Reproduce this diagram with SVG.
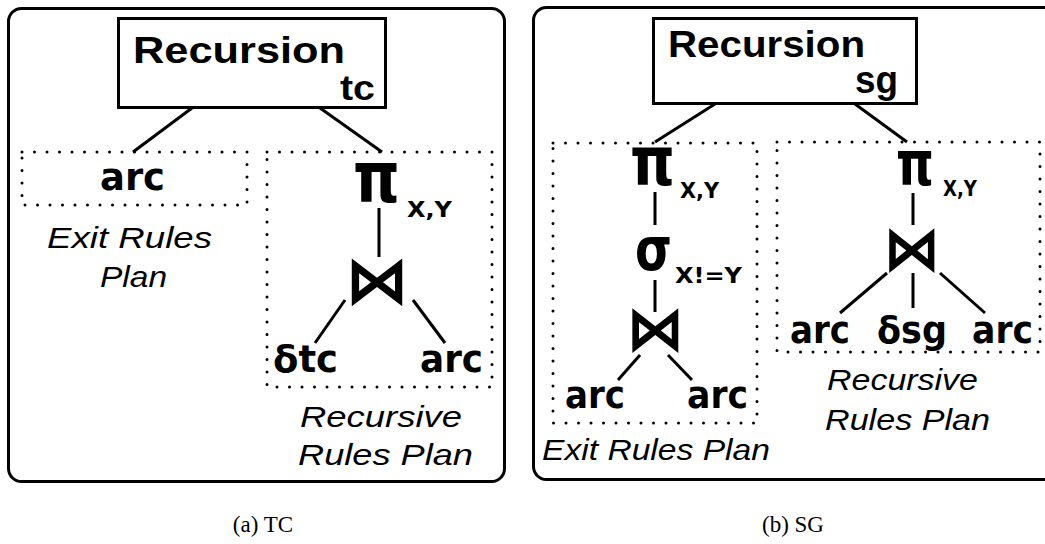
<svg xmlns="http://www.w3.org/2000/svg" width="1045" height="544" viewBox="0 0 1045 544">
<style>
.panel{fill:none;stroke:#000;stroke-width:3}
.rbox{fill:#fff;stroke:#000;stroke-width:3}
.dot{fill:none;stroke:#000;stroke-width:3;stroke-linecap:round;stroke-dasharray:0 12.5}
.ln{stroke:#000;stroke-width:3;fill:none}
.hb{font-family:"Liberation Sans",Arial,sans-serif;font-weight:bold;fill:#000}
.sym{font-family:"DejaVu Sans",sans-serif;font-weight:bold;fill:#000}
.gk{font-family:"DejaVu Sans",sans-serif;font-weight:bold;fill:#000}
.it{font-family:"Liberation Sans",Arial,sans-serif;font-style:italic;font-size:29px;fill:#000}
.cap{font-family:"Liberation Serif","Times New Roman",serif;font-size:23px;fill:#000}
</style>
<rect class="panel" x="8.5" y="8.5" width="496" height="473" rx="13"/>
<rect class="panel" x="533.5" y="7.5" width="530" height="472" rx="13"/>
<g id="connectors">
<line class="ln" x1="192" y1="108" x2="133" y2="152"/>
<line class="ln" x1="320" y1="108" x2="382" y2="152"/>
<line class="ln" x1="379" y1="208" x2="379" y2="257"/>
<line class="ln" x1="345" y1="300" x2="315" y2="343"/>
<line class="ln" x1="413" y1="300" x2="445" y2="343"/>
<line class="ln" x1="715" y1="104" x2="655" y2="142"/>
<line class="ln" x1="855" y1="104" x2="907" y2="142"/>
<line class="ln" x1="655" y1="192" x2="655" y2="225"/>
<line class="ln" x1="655" y1="280" x2="655" y2="312"/>
<line class="ln" x1="640" y1="355" x2="618" y2="380"/>
<line class="ln" x1="668" y1="355" x2="692" y2="380"/>
<line class="ln" x1="913" y1="193" x2="913" y2="225"/>
<line class="ln" x1="887" y1="273" x2="840" y2="313"/>
<line class="ln" x1="913" y1="273" x2="913" y2="308"/>
<line class="ln" x1="940" y1="273" x2="985" y2="313"/>
</g>
<g id="rec-tc">
<rect class="rbox" x="118.5" y="18.5" width="267" height="89"/>
<text class="hb" x="133" y="63" font-size="37" textLength="212" lengthAdjust="spacingAndGlyphs">Recursion</text>
<text class="hb" x="340" y="100" font-size="35" textLength="35" lengthAdjust="spacingAndGlyphs">tc</text>
</g>
<g id="tc-exit">
<rect class="dot" x="22" y="152" width="225" height="53"/>
<text class="sym" x="100" y="190" font-size="37" textLength="65" lengthAdjust="spacingAndGlyphs">arc</text>
<text class="it" x="47" y="248" textLength="165" lengthAdjust="spacingAndGlyphs">Exit Rules</text>
<text class="it" x="100" y="287" textLength="67" lengthAdjust="spacingAndGlyphs">Plan</text>
</g>
<g id="tc-rec">
<rect class="dot" x="267" y="152" width="225" height="235"/>
<text class="gk" x="353" y="202" font-size="72" textLength="47" lengthAdjust="spacingAndGlyphs">π</text>
<text class="sym" x="407" y="217" font-size="21" textLength="45" lengthAdjust="spacingAndGlyphs">X,Y</text>
<text class="sym" x="345" y="303" font-size="66" textLength="64" lengthAdjust="spacingAndGlyphs">⋈</text>
<text class="sym" x="273" y="372" font-size="37" textLength="65" lengthAdjust="spacingAndGlyphs">δtc</text>
<text class="sym" x="420" y="372" font-size="37" textLength="63" lengthAdjust="spacingAndGlyphs">arc</text>
<text class="it" x="300" y="427" textLength="162" lengthAdjust="spacingAndGlyphs">Recursive</text>
<text class="it" x="298" y="465" textLength="175" lengthAdjust="spacingAndGlyphs">Rules Plan</text>
</g>
<g id="rec-sg">
<rect class="rbox" x="653.5" y="18.5" width="263" height="85"/>
<text class="hb" x="668" y="57" font-size="36" textLength="197" lengthAdjust="spacingAndGlyphs">Recursion</text>
<text class="hb" x="855" y="93" font-size="38" textLength="43" lengthAdjust="spacingAndGlyphs">sg</text>
</g>
<g id="sg-exit">
<rect class="dot" x="553" y="143" width="204" height="280"/>
<text class="gk" x="630" y="185" font-size="68" textLength="45" lengthAdjust="spacingAndGlyphs">π</text>
<text class="sym" x="680" y="198" font-size="21" textLength="39" lengthAdjust="spacingAndGlyphs">X,Y</text>
<text class="gk" x="635" y="270" font-size="60" textLength="37" lengthAdjust="spacingAndGlyphs">σ</text>
<text class="sym" x="675" y="283" font-size="21" textLength="67" lengthAdjust="spacingAndGlyphs">X!=Y</text>
<text class="sym" x="626" y="350" font-size="62" textLength="58" lengthAdjust="spacingAndGlyphs">⋈</text>
<text class="sym" x="565" y="408" font-size="37" textLength="60" lengthAdjust="spacingAndGlyphs">arc</text>
<text class="sym" x="687" y="408" font-size="37" textLength="61" lengthAdjust="spacingAndGlyphs">arc</text>
<text class="it" x="542" y="460" textLength="228" lengthAdjust="spacingAndGlyphs">Exit Rules Plan</text>
</g>
<g id="sg-rec">
<rect class="dot" x="777" y="142" width="263" height="210"/>
<text class="gk" x="896" y="185" font-size="62" textLength="38" lengthAdjust="spacingAndGlyphs">π</text>
<text class="sym" x="943" y="196" font-size="21" textLength="34" lengthAdjust="spacingAndGlyphs">X,Y</text>
<text class="sym" x="883" y="270" font-size="62" textLength="57" lengthAdjust="spacingAndGlyphs">⋈</text>
<text class="sym" x="790" y="343" font-size="37" textLength="60" lengthAdjust="spacingAndGlyphs">arc</text>
<text class="sym" x="877" y="343" font-size="37" textLength="70" lengthAdjust="spacingAndGlyphs">δsg</text>
<text class="sym" x="972" y="343" font-size="37" textLength="61" lengthAdjust="spacingAndGlyphs">arc</text>
<text class="it" x="827" y="390" textLength="151" lengthAdjust="spacingAndGlyphs">Recursive</text>
<text class="it" x="825" y="430" textLength="165" lengthAdjust="spacingAndGlyphs">Rules Plan</text>
</g>
<text class="cap" x="263" y="532" text-anchor="middle">(a) TC</text>
<text class="cap" x="793" y="532" text-anchor="middle">(b) SG</text>
</svg>
